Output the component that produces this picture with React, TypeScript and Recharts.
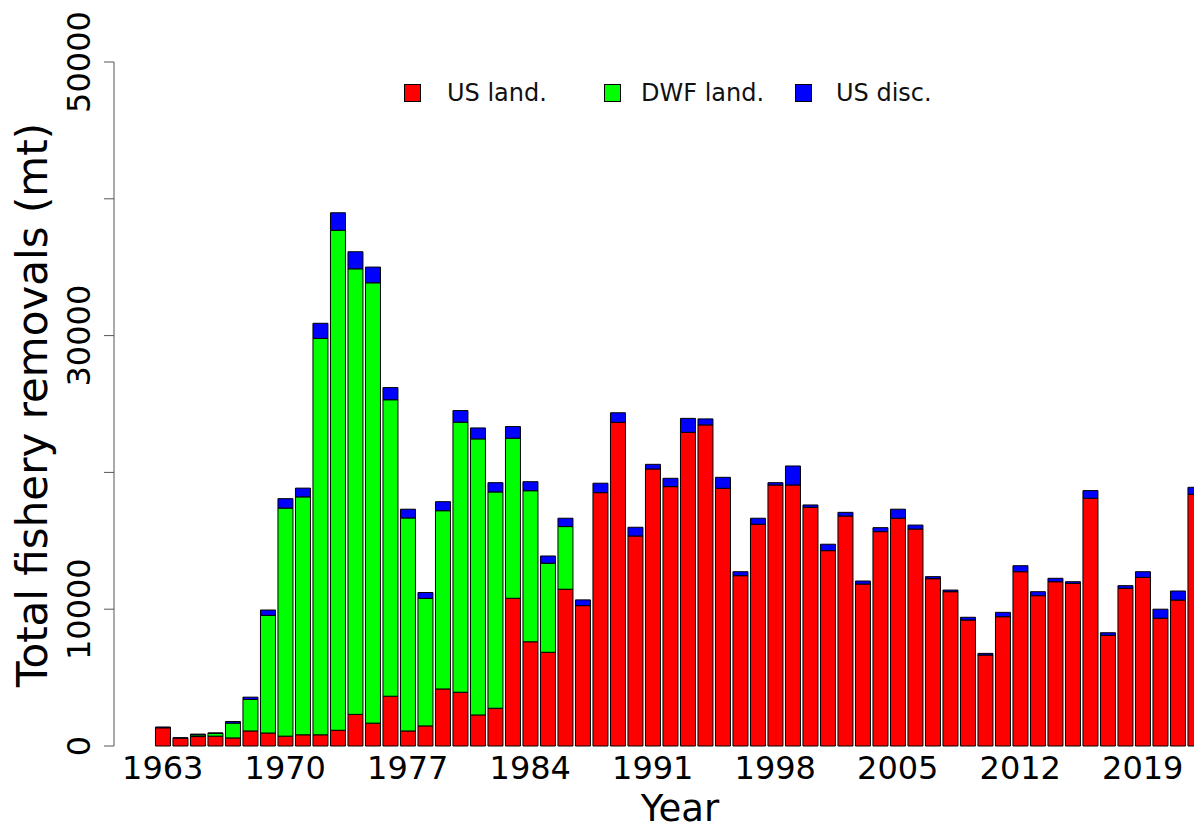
import { BarChart, Bar, XAxis, YAxis } from 'recharts';

// catch by year, metric tons
const years = [
  1963, 1964, 1965, 1966, 1967, 1968, 1969, 1970, 1971, 1972,
  1973, 1974, 1975, 1976, 1977, 1978, 1979, 1980, 1981, 1982,
  1983, 1984, 1985, 1986, 1987, 1988, 1989, 1990, 1991, 1992,
  1993, 1994, 1995, 1996, 1997, 1998, 1999, 2000, 2001, 2002,
  2003, 2004, 2005, 2006, 2007, 2008, 2009, 2010, 2011, 2012,
  2013, 2014, 2015, 2016, 2017, 2018, 2019, 2020, 2021, 2022,
];

const usLand = [
  1330, 580, 690, 720, 590, 1100, 950, 720, 820, 820,
  1150, 2310, 1670, 3640, 1100, 1470, 4170, 3930, 2270, 2760,
  10800, 7620, 6850, 11460, 10260, 18520, 23660, 15350, 20250, 18960,
  22930, 23470, 18840, 12450, 16210, 19080, 19080, 17450, 14280, 16810,
  11840, 15670, 16650, 15860, 12230, 11280, 9210, 6650, 9450, 12740,
  10990, 12010, 11890, 18110, 8090, 11530, 12330, 9340, 10670, 18400,
];

const dwfLand = [
  0, 0, 120, 200, 1080, 2300, 8600, 16670, 17390, 28980,
  36550, 32570, 32190, 21670, 15570, 9320, 13030, 19740, 20180, 15810,
  11700, 11040, 6510, 4580, 0, 0, 0, 0, 0, 0,
  0, 0, 0, 0, 0, 0, 0, 0, 0, 0,
  0, 0, 0, 0, 0, 0, 0, 0, 0, 0,
  0, 0, 0, 0, 0, 0, 0, 0, 0, 0,
];

const usDisc = [
  60, 20, 60, 40, 120, 170, 390, 690, 640, 1100,
  1280, 1250, 1150, 890, 640, 430, 660, 850, 800, 680,
  850, 660, 530, 610, 420, 690, 700, 640, 340, 610,
  1020, 440, 800, 290, 440, 170, 1390, 170, 470, 270,
  220, 290, 660, 290, 150, 120, 200, 120, 320, 440,
  290, 250, 120, 560, 190, 190, 410, 660, 660, 510,
];

const yTicks = [0, 10000, 20000, 30000, 40000, 50000];
const yTickLabels = ['0', '10000', '', '30000', '', '50000'];

const seriesNames = ['US land.', 'DWF land.', 'US disc.'];
const seriesColors = ['#FF0000', '#00FF00', '#0000FF'];

const rows = years.map((year, i) => ({
  year,
  usLand: usLand[i],
  dwfLand: dwfLand[i],
  usDisc: usDisc[i],
}));

const FONT = 'DejaVu Sans, sans-serif';

const XTick = (props: any) => {
  const { x, payload } = props;
  return (
    <text x={x} y={771} textAnchor="middle" fontSize={32} fontFamily={FONT} fill="#000">
      {payload.value}
    </text>
  );
};

const YTick = (props: any) => {
  const { y, payload } = props;
  const label = yTickLabels[yTicks.indexOf(payload.value)];
  if (!label) return <g />;
  return (
    <text
      transform={`translate(82, ${y}) rotate(-90)`}
      textAnchor="middle"
      fontSize={32}
      fontFamily={FONT}
      fill="#000"
    >
      {label}
    </text>
  );
};

const XTitle = () => (
  <text x={672} y={813} textAnchor="middle" fontSize={37} fontFamily={FONT} fill="#000">
    Year
  </text>
);

const YTitle = () => (
  <text
    transform="translate(39, 397) rotate(-90)"
    textAnchor="middle"
    fontSize={42}
    fontFamily={FONT}
    fill="#000"
  >
    Total fishery removals (mt)
  </text>
);

// legend box positions inside the chart box
const legendX = [396, 596, 787];
const legendTextX = [439, 633, 828];

const ChartLegend = () => (
  <div style={{ position: 'absolute', left: 0, top: 0, width: 1194, height: 100, pointerEvents: 'none' }}>
    {seriesNames.map((name, i) => (
      <div key={name}>
        <div
          style={{
            position: 'absolute',
            left: legendX[i],
            top: 76,
            width: 15,
            height: 16,
            background: seriesColors[i],
            border: '1px solid #000',
          }}
        />
        <div
          style={{
            position: 'absolute',
            left: legendTextX[i],
            top: 70,
            fontSize: 24,
            fontFamily: FONT,
            color: '#111',
            whiteSpace: 'nowrap',
            lineHeight: '30px',
          }}
        >
          {name}
        </div>
      </div>
    ))}
  </div>
);

export default function App() {
  return (
    <div style={{ position: 'relative', width: 1194, height: 823, overflow: 'hidden', background: '#fff' }}>
      <BarChart
        width={1200}
        height={823}
        data={rows}
        margin={{ top: 54, right: 4, bottom: 0, left: 0 }}
        barCategoryGap="8.33%"
      >
        <XAxis
          dataKey="year"
          interval={6}
          axisLine={false}
          tickLine={false}
          tick={XTick}
          height={85}
          padding={{ left: 40, right: 0 }}
          label={<XTitle />}
        />
        <YAxis
          domain={[0, 50000]}
          ticks={yTicks}
          tick={YTick}
          width={106}
          tickSize={10}
          tickLine={{ stroke: '#555' }}
          axisLine={{ stroke: '#555' }}
          label={<YTitle />}
        />
        <Bar dataKey="usLand" stackId="a" fill={seriesColors[0]} stroke="#000" strokeWidth={1} isAnimationActive={false} />
        <Bar dataKey="dwfLand" stackId="a" fill={seriesColors[1]} stroke="#000" strokeWidth={1} isAnimationActive={false} />
        <Bar dataKey="usDisc" stackId="a" fill={seriesColors[2]} stroke="#000" strokeWidth={1} isAnimationActive={false} />
      </BarChart>
      <ChartLegend />
    </div>
  );
}
